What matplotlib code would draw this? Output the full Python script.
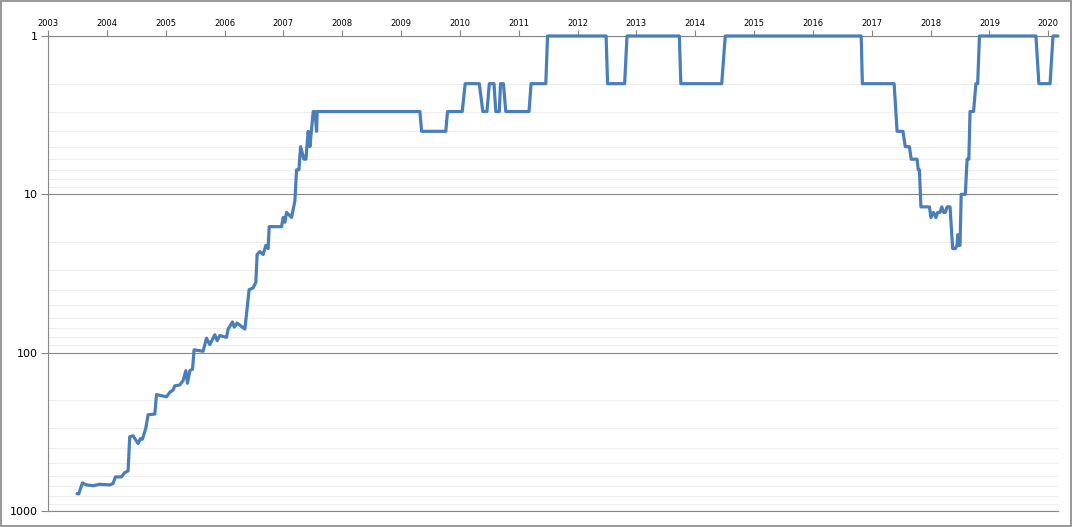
import matplotlib
matplotlib.use('Agg')
import matplotlib.pyplot as plt
from matplotlib.ticker import FixedLocator, LogLocator, NullFormatter
from matplotlib.patches import Rectangle

# rank over time (decimal years)
years = [2003.493, 2003.522, 2003.585, 2003.653, 2003.765, 2003.879, 2004.049, 2004.105,
         2004.146, 2004.248, 2004.304, 2004.361, 2004.389, 2004.446, 2004.531, 2004.571,
         2004.605, 2004.662, 2004.701, 2004.815, 2004.844, 2005.014, 2005.070, 2005.126,
         2005.155, 2005.240, 2005.296, 2005.342, 2005.371, 2005.410, 2005.456, 2005.483,
         2005.636, 2005.694, 2005.750, 2005.835, 2005.874, 2005.920, 2006.034, 2006.061,
         2006.136, 2006.165, 2006.214, 2006.345, 2006.361, 2006.418, 2006.486, 2006.532,
         2006.554, 2006.600, 2006.656, 2006.702, 2006.741, 2006.759, 2006.969, 2006.997,
         2007.026, 2007.054, 2007.139, 2007.196, 2007.224, 2007.264, 2007.293, 2007.349,
         2007.383, 2007.422, 2007.451, 2007.507, 2007.536, 2007.565, 2007.575,
         2009.32, 2009.35, 2009.76, 2009.79, 2010.04, 2010.09, 2010.33, 2010.39, 2010.46,
         2010.50, 2010.58, 2010.61, 2010.67, 2010.69, 2010.74, 2010.78, 2011.175, 2011.21,
         2011.46, 2011.49, 2012.485, 2012.51, 2012.80, 2012.84, 2013.73, 2013.755, 2014.45,
         2014.51, 2016.82, 2016.84, 2017.38, 2017.43, 2017.53, 2017.57, 2017.64, 2017.67,
         2017.77, 2017.79, 2017.81, 2017.835, 2017.98, 2018.005, 2018.05, 2018.09, 2018.12,
         2018.16, 2018.19, 2018.22, 2018.25, 2018.28, 2018.33, 2018.375, 2018.42, 2018.45,
         2018.46, 2018.475, 2018.50, 2018.52, 2018.59, 2018.62, 2018.65, 2018.67, 2018.73,
         2018.77, 2018.80, 2018.83, 2019.79, 2019.84, 2020.03, 2020.08, 2020.165]
ranks = [777, 780, 665, 684, 692, 678, 684, 671,
         609, 609, 572, 558, 340, 335, 375, 349,
         352, 300, 247, 244, 184, 190, 178, 172,
         162, 160, 150, 130, 156, 130, 127, 96,
         98, 81, 89, 77, 84, 78, 80, 71,
         64, 69, 65, 71, 63, 40, 39, 36,
         24, 23, 24, 21, 22, 16, 16, 14,
         15, 13, 14, 11, 7, 7, 5, 6,
         6, 4, 5, 3, 3, 4, 3,
         3, 4, 4, 3, 3, 2, 2, 3, 3,
         2, 2, 3, 3, 2, 2, 3, 3, 2,
         2, 1, 1, 2, 2, 1, 1, 2, 2,
         1, 1, 2, 2, 4, 4, 5, 5, 6,
         6, 7, 7, 12, 12, 14, 13, 14, 13,
         13, 12, 13, 13, 12, 12, 22, 22, 21,
         18, 21, 21, 10, 10, 6, 6, 3, 3,
         2, 2, 1, 1, 2, 2, 1, 1]

year_ticks = list(range(2003, 2021))
rank_ticks = [1, 10, 100, 1000]

fig = plt.figure(figsize=(10.73, 5.27), dpi=100)
ax = fig.add_axes([48 / 1073, 1 - 511 / 527, 1010 / 1073, 475 / 527])

ax.plot(years, ranks, color='#4a7ebb', linewidth=2.3, solid_joinstyle='round',
        solid_capstyle='round', zorder=3, clip_on=False)

ax.set_yscale('log')
ax.set_ylim(1000, 1)
ax.set_xlim(2003, 2020.165)

ax.yaxis.set_major_locator(FixedLocator(rank_ticks))
ax.set_yticklabels([str(r) for r in rank_ticks])
ax.yaxis.set_minor_locator(LogLocator(base=10, subs=range(2, 10)))
ax.yaxis.set_minor_formatter(NullFormatter())
ax.tick_params(axis='y', which='major', length=5, color='#868686', labelsize=8,
               labelcolor='black', pad=2)
ax.tick_params(axis='y', which='minor', length=0)
ax.grid(True, axis='y', which='major', color='#868686', linewidth=0.8)
ax.grid(True, axis='y', which='minor', color='#ededed', linewidth=0.8)

ax.xaxis.tick_top()
ax.set_xticks(year_ticks)
ax.set_xticklabels([str(y) for y in year_ticks])
ax.tick_params(axis='x', length=4, color='#868686', labelsize=6, labelcolor='black', pad=2)

for side in ['left', 'top', 'bottom']:
    ax.spines[side].set_color('#868686')
    ax.spines[side].set_linewidth(0.8)
ax.spines['right'].set_visible(False)
ax.set_axisbelow(True)

fig.patches.append(Rectangle((0.0005, 0.001), 0.998, 0.997, transform=fig.transFigure,
                             fill=False, edgecolor='#868686', linewidth=1.2))

fig.savefig('out.png', dpi=100)
